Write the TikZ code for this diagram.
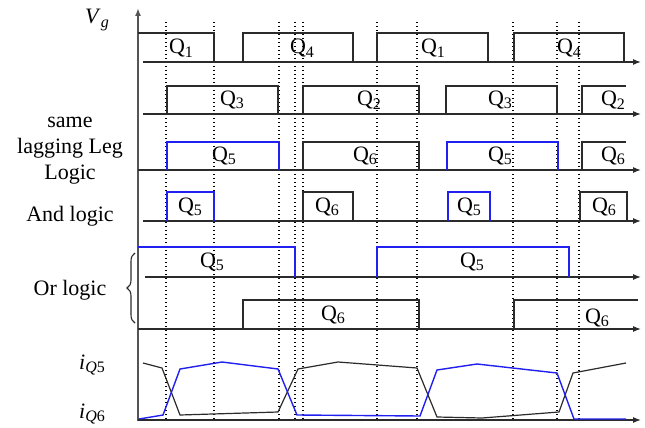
\documentclass[tikz,border=0pt]{standalone}
\usepackage{fontspec}
\setmainfont{Liberation Serif}
\usetikzlibrary{arrows.meta,decorations.pathreplacing}
\definecolor{sb}{HTML}{2020F0}
\definecolor{dk}{HTML}{2B2B2B}
\definecolor{ax}{HTML}{555555}
\newcommand{\lowsub}[1]{\raisebox{-0.35ex}{\fontsize{16}{16}\selectfont #1}}
\newcommand{\qsub}[1]{Q\lowsub{#1}}
\newcommand{\isub}[1]{\textit{i}\lowsub{\textit{Q}#1}}
\tikzset{
  sig/.style={draw=dk,line width=1.2pt},
  bsig/.style={draw=sb,line width=1.4pt},
  base/.style={draw=dk,line width=1.2pt,-{Latex[length=8pt,width=6pt]}},
  tick/.style={draw=black,line width=1.1pt,dash pattern=on 1.3pt off 2.7pt},
  lbl/.style={inner sep=0pt,font=\fontsize{22}{24}\selectfont},
  side/.style={align=center,inner sep=0pt,font=\fontsize{22}{26}\selectfont},
}

\begin{document}
\begin{tikzpicture}[x=1pt,y=-1pt]
\useasboundingbox (0,0) rectangle (645,428);
% time marks
\foreach \t in {166,214,279,295,303,377,417,513,557,579}
  \draw[tick] (\t,22) -- (\t,420);
% axes
\draw[draw=ax,line width=1.6pt,-{Latex[length=8pt,width=6pt]}] (138,421) -- (138,8);
\draw[base] (138,420) -- (641,420);
\node[lbl] (vg) at (97,20) {\textit{V}\lowsub{\textit{g}}};

% Q1 / Q4
\draw[base] (143,62) -- (641,62);
\draw[sig] (138,33) -- (214,33) -- (214,62);
\draw[sig] (243,62) -- (243,33) -- (353,33) -- (353,62);
\draw[sig] (377,62) -- (377,33) -- (488,33) -- (488,62);
\draw[sig] (514,62) -- (514,33) -- (624,33) -- (624,62);
\node[lbl] (q1a) at (181,48) {\qsub{1}};
\node[lbl] (q4a) at (302,48) {\qsub{4}};
\node[lbl] (q1b) at (433,48) {\qsub{1}};
\node[lbl] (q4b) at (569,48) {\qsub{4}};

% Q3 / Q2
\draw[base] (143,114) -- (641,114);
\draw[sig] (167,114) -- (167,86) -- (278,86) -- (278,114);
\draw[sig] (303,114) -- (303,86) -- (419,86) -- (419,114);
\draw[sig] (446,114) -- (446,86) -- (557,86) -- (557,114);
\draw[sig] (582,114) -- (582,86) -- (626,86);
\node[lbl] (q3a) at (232,100) {\qsub{3}};
\node[lbl] (q2a) at (369,100) {\qsub{2}};
\node[lbl] (q3b) at (500,100) {\qsub{3}};
\node[lbl] (q2b) at (613,100) {\qsub{2}};

% same lagging leg
\draw[base] (138,170) -- (641,170);
\draw[bsig] (167,170) -- (167,142) -- (279,142) -- (279,170);
\draw[sig] (303,170) -- (303,142) -- (419,142) -- (419,170);
\draw[bsig] (447,170) -- (447,142) -- (558,142) -- (558,170);
\draw[sig] (582,170) -- (582,142) -- (626,142);
\node[lbl] (s5a) at (224,156) {\qsub{5}};
\node[lbl] (s6a) at (365,156) {\qsub{6}};
\node[lbl] (s5b) at (500,156) {\qsub{5}};
\node[lbl] (s6b) at (613,156) {\qsub{6}};
\node[side] (same) at (70,151) {same\\lagging Leg\\Logic};

% and logic
\draw[base] (143,221) -- (641,221);
\draw[bsig] (167,221) -- (167,192) -- (214,192) -- (214,221);
\draw[sig] (303,221) -- (303,192) -- (353,192) -- (353,221);
\draw[bsig] (448,221) -- (448,192) -- (490,192) -- (490,221);
\draw[sig] (580,221) -- (580,192) -- (627,192) -- (627,221);
\node[lbl] (a5a) at (190,207) {\qsub{5}};
\node[lbl] (a6a) at (327,207) {\qsub{6}};
\node[lbl] (a5b) at (469,207) {\qsub{5}};
\node[lbl] (a6b) at (604,207) {\qsub{6}};
\node[side] (andl) at (70,216) {And logic};

% or logic
\draw[base] (145,277) -- (641,277);
\draw[bsig] (138,247) -- (295,247) -- (295,277);
\draw[bsig] (377,277) -- (377,247) -- (569,247) -- (569,277);
\node[lbl] (o5a) at (212,262) {\qsub{5}};
\node[lbl] (o5b) at (472,262) {\qsub{5}};
\draw[base] (138,329) -- (641,329);
\draw[sig] (243,329) -- (243,300) -- (419,300) -- (419,329);
\draw[sig] (514,329) -- (514,300) -- (638,300);
\node[lbl] (o6a) at (333,315) {\qsub{6}};
\node[lbl] (o6b) at (597,318) {\qsub{6}};
\draw[dk,line width=1.1pt,decorate,decoration={brace,amplitude=8pt}] (135,323) -- (135,253);
\node[side] (orl) at (70,290) {Or logic};

% currents
\draw[sig] (143,363) -- (162,368) -- (180,415) -- (278,412) -- (298,369) -- (338,362)
  -- (417,368) -- (437,417) -- (482,418) -- (559,412) -- (573,373) -- (626,363);
\draw[bsig] (139,419) -- (163,415) -- (180,369) -- (222,362) -- (278,369) -- (297,415)
  -- (420,416) -- (437,370) -- (477,364) -- (557,373) -- (574,419) -- (626,419);
\node[lbl] (i5) at (92,365) {\isub{5}};
\node[lbl] (i6) at (92,414) {\isub{6}};
\end{tikzpicture}
\end{document}
